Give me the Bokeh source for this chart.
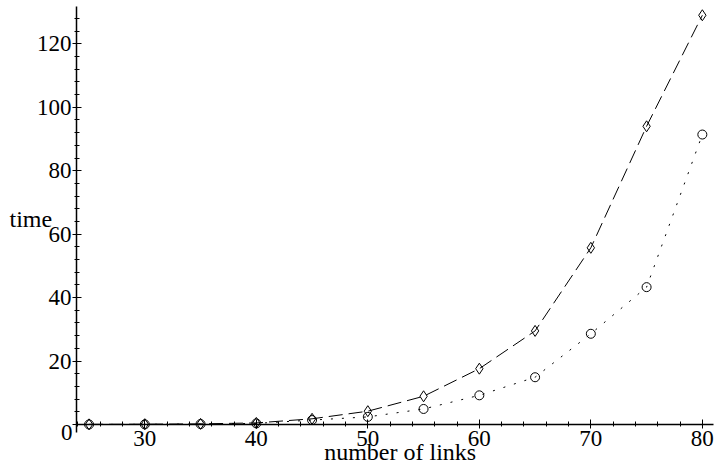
from bokeh.plotting import figure
from bokeh.models import Range1d, LinearAxis, SingleIntervalTicker, Label
from bokeh.embed import file_html
from bokeh.resources import INLINE

# Data
links = [25, 30, 35, 40, 45, 50, 55, 60, 65, 70, 75, 80]
time_dashed = [0.05, 0.1, 0.2, 0.5, 1.8, 4.2, 8.9, 17.6, 29.5, 55.7, 94.0, 129.0]
time_dotted = [0.02, 0.05, 0.15, 0.35, 1.4, 2.4, 4.9, 9.2, 14.9, 28.6, 43.3, 91.4]

x_label = "number of links"
y_label = "time"

# visible ranges (whole canvas is the plot frame)
X0, X1 = 17.058, 81.18
Y0, Y1 = -12.92, 133.65
# axis extents
AX_X0, AX_X1 = 23.87, 80.98
AX_Y0, AX_Y1 = -2.4, 131.8

FONT = "Liberation Serif"

p = figure(width=715, height=465,
           x_range=Range1d(X0, X1), y_range=Range1d(Y0, Y1),
           x_axis_location=None, y_axis_location=None,
           output_backend="svg", toolbar_location=None,
           min_border_left=0, min_border_right=0,
           min_border_top=0, min_border_bottom=0)
p.outline_line_color = None
p.background_fill_color = "white"
p.border_fill_color = "white"
p.xgrid.grid_line_color = None
p.ygrid.grid_line_color = None

def style_axis(ax):
    ax.axis_line_color = "black"
    ax.axis_line_width = 1.5
    ax.major_tick_line_color = "black"
    ax.minor_tick_line_color = "black"
    ax.major_tick_in = 5
    ax.major_tick_out = 4
    ax.minor_tick_in = 3
    ax.minor_tick_out = 2
    ax.major_label_text_font = FONT
    ax.major_label_text_font_size = "23px"
    ax.major_label_text_color = "black"

xaxis = LinearAxis(fixed_location=0,
                   ticker=SingleIntervalTicker(interval=10, num_minor_ticks=5),
                   bounds=(AX_X0, AX_X1))
style_axis(xaxis)
xaxis.major_label_standoff = 2
p.add_layout(xaxis, "below")

yaxis = LinearAxis(fixed_location=AX_X0,
                   ticker=SingleIntervalTicker(interval=20, num_minor_ticks=5),
                   bounds=(AX_Y0, AX_Y1))
style_axis(yaxis)
yaxis.major_label_standoff = 1
yaxis.major_label_overrides = {0: ""}
p.add_layout(yaxis, "left")

p.line(links, time_dashed, line_color="black", line_width=1, line_dash="14 6")
p.line(links, time_dotted, line_color="black", line_width=1, line_dash="2 9")
p.scatter(links, time_dashed, marker="diamond", size=11, fill_color=None,
          line_color="black", line_width=1)
p.scatter(links, time_dotted, marker="circle", size=9, fill_color=None,
          line_color="black", line_width=1)

p.add_layout(Label(x=AX_X0, y=0, x_offset=-4, text="0", text_align="right",
                   text_baseline="top", text_font=FONT, text_font_size="23px",
                   text_color="black"))
p.add_layout(Label(x=17.865, y=64.9, text=y_label, text_align="left",
                   text_baseline="alphabetic", text_font=FONT,
                   text_font_size="24px", text_color="black"))
p.add_layout(Label(x=52.9, y=-8.8, text=x_label, text_align="center",
                   text_baseline="alphabetic", text_font=FONT,
                   text_font_size="24px", text_color="black"))

open("out.html", "w").write(file_html(p, INLINE))
